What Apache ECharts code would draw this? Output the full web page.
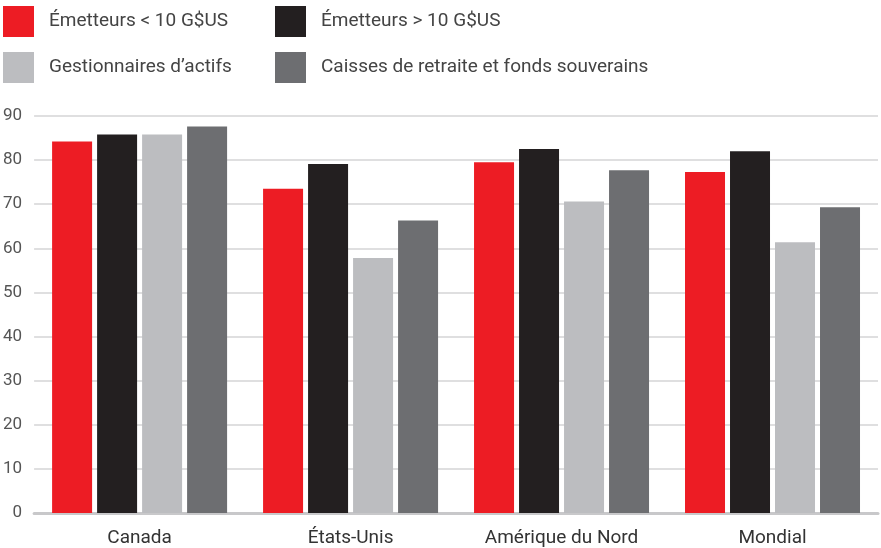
<!DOCTYPE html>
<html>
<head>
<meta charset="utf-8">
<script src="https://cdn.jsdelivr.net/npm/echarts@6/dist/echarts.min.js"></script>
<style>
  html, body { margin: 0; padding: 0; background: #ffffff; }
  #chart { width: 881px; height: 548px; }
</style>
</head>
<body>
<div id="chart"></div>
<script>
// Categories and series values
var categories = ['Canada', 'États-Unis', 'Amérique du Nord', 'Mondial'];
var seriesNames = [
  'Émetteurs < 10 G$US',
  'Émetteurs > 10 G$US',
  'Gestionnaires d\u2019actifs',
  'Caisses de retraite et fonds souverains'
];
var emetteursPetits = [84.2, 73.5, 79.5, 77.3];
var emetteursGrands = [85.8, 79.1, 82.5, 82.0];
var gestionnaires = [85.8, 57.8, 70.6, 61.4];
var caisses = [87.6, 66.3, 77.7, 69.3];
var yTicks = [0, 10, 20, 30, 40, 50, 60, 70, 80, 90];

var colors = ['#ed1c24', '#231f20', '#bcbdc0', '#6d6e71'];
var values = [emetteursPetits, emetteursGrands, gestionnaires, caisses];

var font = 'Roboto, "Liberation Sans", sans-serif';

// One legend block per entry, laid out in a 2x2 grid
var legendPos = [
  { left: 3, top: 6 },
  { left: 275, top: 6 },
  { left: 3, top: 52 },
  { left: 275, top: 52 }
];
var legends = seriesNames.map(function (name, i) {
  return {
    data: [name],
    left: legendPos[i].left,
    top: legendPos[i].top,
    padding: 0,
    itemWidth: 31,
    itemHeight: 31,
    icon: 'rect',
    selectedMode: false,
    textStyle: {
      fontFamily: font,
      fontSize: 19,
      color: '#444444',
      padding: [0, 0, 0, 10]
    }
  };
});

var series = seriesNames.map(function (name, i) {
  return {
    name: name,
    type: 'bar',
    data: values[i],
    barWidth: 40,
    barGap: '12.5%',
    itemStyle: { color: colors[i] },
    emphasis: { disabled: true }
  };
});

var chart = echarts.init(document.getElementById('chart'), null, { renderer: 'canvas' });
chart.setOption({
  animation: false,
  color: colors,
  legend: legends,
  grid: { left: 34, right: 3, top: 116, bottom: 34, containLabel: false },
  xAxis: {
    type: 'category',
    data: categories,
    axisTick: { show: false },
    axisLine: { show: true, lineStyle: { color: '#c8c8ca', width: 3 } },
    axisLabel: {
      fontFamily: font,
      fontSize: 19,
      color: '#333333',
      margin: 16
    }
  },
  yAxis: {
    type: 'value',
    min: yTicks[0],
    max: yTicks[yTicks.length - 1],
    interval: 10,
    axisLine: { show: false },
    axisTick: { show: false },
    splitLine: { lineStyle: { color: '#d4d4d6', width: 1.5 } },
    axisLabel: {
      fontFamily: font,
      fontSize: 17,
      color: '#555555',
      margin: 12
    }
  },
  series: series
});
</script>
</body>
</html>
